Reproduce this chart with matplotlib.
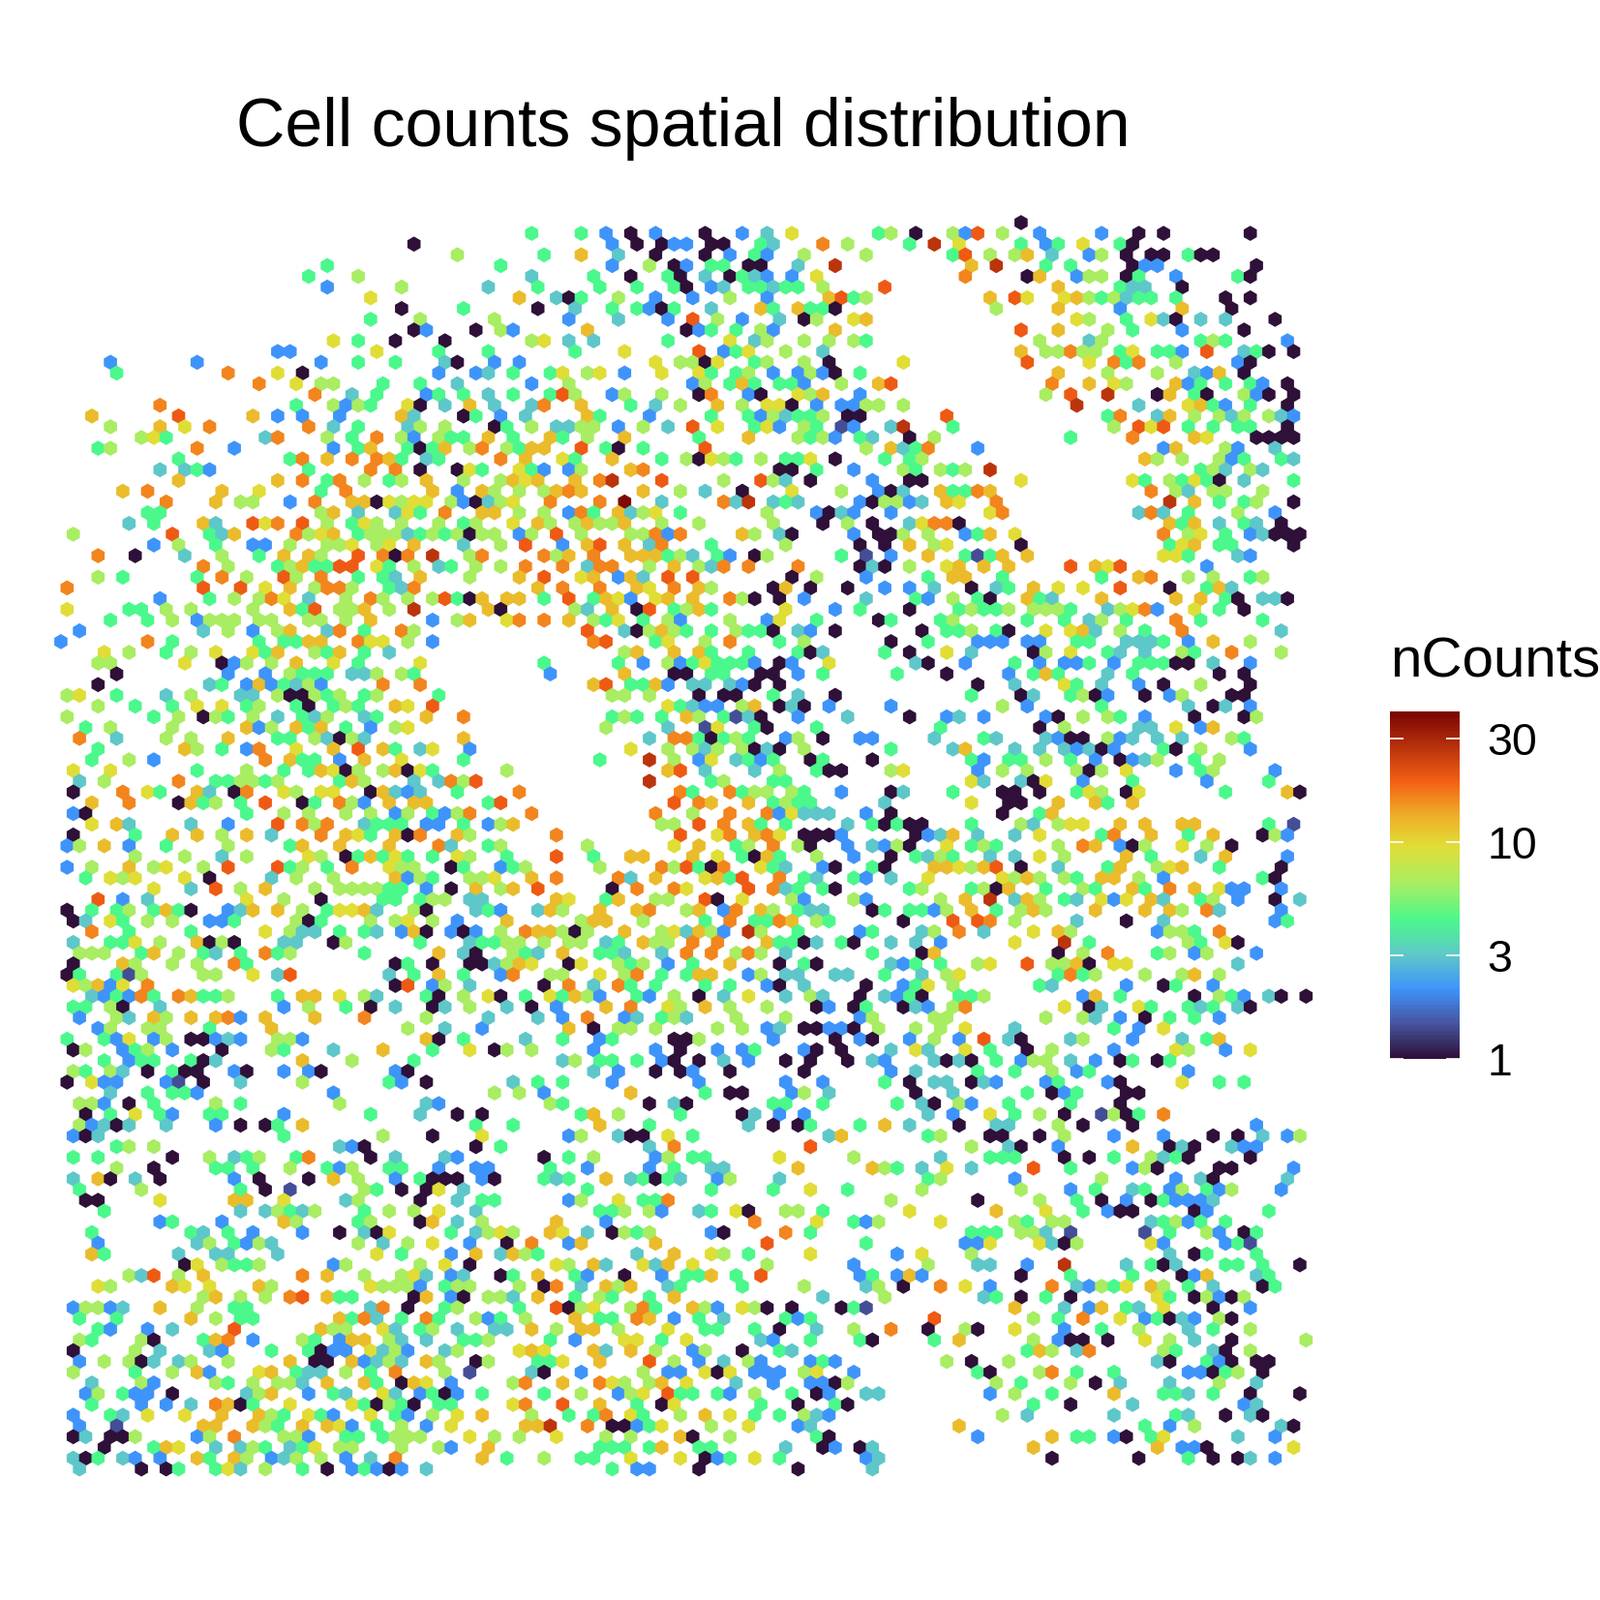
import numpy as np
import matplotlib
matplotlib.use("Agg")
import matplotlib.pyplot as plt
from matplotlib.colors import LinearSegmentedColormap, LogNorm

plt.rcParams['font.family'] = ['Liberation Sans', 'DejaVu Sans']

TITLE = "Cell counts spatial distribution"
LEGEND_TITLE = "nCounts"
LEGEND_TICKS = [1, 3, 10, 30]
LEGEND_LABELS = ["1", "3", "10", "30"]
COUNT_MIN, COUNT_MAX = 1, 40

# nCounts read per colour class
LEVELS = {'a': 1, 'k': 1.4, 'b': 2.1, 'c': 3, 'd': 4.4, 'e': 6.5, 'f': 9.5,
          'g': 12, 'h': 16, 'i': 20, 'j': 27, 'l': 38}

# spot row -> "column+class" tokens
TOP_LEFT = {
2:"28a",3:"32e",4:"21d",5:"20d 24e",6:"21b 27e",7:"25f",8:"27a 32d",9:"25d 29e",10:"28a 29b 33a",
11:"22f 24d 27a 31a",12:"17b 18b 25f 30d",13:"4b 11b 21b 24d 27d 31c 32a",14:"4d 13h 17f 19a 30b 33b",
15:"16h 19f 21e 22e 26d 29d 32c",16:"20h 23c 25d 29b 30d 32d",17:"8h 19d 22e 23b 24e 25d 28f 29a 31c 33g",
18:"2g 9i 15g 17b 19b 22b 27g 28c 32a 33d",19:"4e 8g 10f 12h 20h 22c 24d 28c 29e 31e",
20:"6e 7f 8d 16c 17h 21e 23d 25h 27e 28b 30e 31d 32d",21:"3d 4e 11h 14b 22b 24d 25g 28d 29a 30d 31g 33e",
22:"9d 18d 19h 21g 23h 25h 26g 27d 29c 30d",23:"8c 10c 11d 12b 20d 25h 27h 29a 32a 33f",
24:"9g 17g 19h 21d 22h 24e 26d 27e 29g 32e",25:"5g 7h 13g 16f 21d 23h 30g 32b",
26:"8h 12g 14e 15e 18b 20h 23g 24g 25a 26f 27e 28f 29f 31e 32b 33a",27:"7d 8d 21e 22g 24c 27c 28f 29d 31h",
28:"5c 7d 11g 12c 15i 16f 17h 19i 21e 23d 24f 25e 27e 30e 32d 33e",
29:"1e 9i 12d 13c 14g 19h 20e 21f 22g 24d 25e 26e 27e 28c 29d 30e 31d 32e 33a",
30:"7b 9e 12d 15b 16b 18e 21e 22e 23f 25e 26f 28g 32c",31:"3h 6a 10c 13e 16d 18g 20g 21e 24i 26h 27a 28h 30j 33e",
32:"11h 13e 17d 18e 19g 20d 21d 22i 23i 25f 26d 28e 30c 31d 33e",33:"3e 5d 11d 13h 15e 18i 19e 21h 24d 26d 27c 29g 33e",
34:"0h 11i 14i 16f 18g 20e 21h 22h 23e 26d 27c 28h",35:"8b 12d 14e 16e 17h 18f 20c 23e 25h 26e 28e 30e 31i 32d 33a",
36:"0f 5d 6d 8e 10e 15e 18g 19d 20i 22e 23e 24g 26e 28j",37:"4d 7d 9e 11b 12e 13e 14e 16e 17e 20e 21e 23e 25g 30b 32e 33g",
38:"1b 11c 13e 15b 17e 18g 21c 22h 24d 27h 28e",39:"0b 7h 9d 16d 18d 19d 20g 21g 24h 25f 26f 28e 30b",
}
TOP_MID = {
1:"38d 42d 44b 46a 48b 52a 55b 57c 59f 66d 67e",2:"44b 46a 48a 49b 50b 52a 53a 56d 57c 61h 63e",
3:"39d 42g 45c 48a 52a 54b 56d 57b 60e 65e",4:"35d 44b 47e 49a 50b 52d 53d 55a 56a 59c 62j",
5:"38c 43d 46a 49d 50a 52c 54a 55d 56c 57b 59b 61f",6:"34c 38d 43d 46d 49d 50a 52b 53c 55d 56d 57c 58d 59d 61e 66i",
7:"37g 40c 41a 42d 45e 48b 51b 54e 57b 62g 63i 64d 65e",8:"38a 41c 44d 46d 47b 48a 49d 52c 56g 57d 59g 60d 61d 62a",
9:"35e 41b 45c 49b 51i 53e 55b 58c 60a 61e 64f 65g",10:"33a 35e 36b 42g 50a 51b 52d 54d 56e 57b 62g",
11:"38e 39f 41c 43c 49d 54f 56c 57e 60e 62e 64e 65d",12:"34d 41d 45f 51i 53b 54d 55f 58e 61c",
13:"35b 37b 48f 50e 51e 52a 53f 56d 57e 60e 62a 68e",14:"33b 34c 36d 39d 40f 42e 43f 45b 48f 51f 52d 54d 55e 57b 59b 60e 61b 62a 64d",
15:"38b 41e 51b 52e 54d 55g 56d 58d 59d 60b 63e 66g 67i",16:"34c 36d 39d 40i 41e 44b 45e 48e 51a 52h 55b 56a 59f 60e 61g 64b",
17:"35c 38c 39h 42g 46d 48c 50e 53g 55e 57f 58f 59a 61b 63b 64b 65e 66e 68e",18:"33d 35b 37c 42g 43d 47b 52d 55d 56b 57e 58c 59d 60d 61e 63a 64a",
19:"35a 36d 38e 40c 41c 42e 43e 45b 47e 49c 51i 53f 56d 57f 58b 60e 61d 63k 64b 67c 68j",20:"34g 36d 39g 40d 42e 45g 51d 55g 59e 60d 61e 62b 64d 65c",
21:"34h 36e 37d 38g 39g 42i 44d 45a 47d 52i 65e 67g 68c",22:"35h 37g 40f 41d 44g 48d 50e 51a 52f 53e 54d 56e 58d 59d 60f 62a 66d",
23:"34d 37f 38d 39b 41b 42e 46g 47h 58a 59a 61d 64b 68e",24:"35e 36g 37f 38g 41g 43h 44j 48i 53e 56i 57e 58c 60a 65b",
25:"34g 35e 37e 39e 40g 41h 42g 47g 50e 52c 55a 59f 63e 66b 67a 68c",26:"33a 34c 35e 36f 39h 43h 45l 48c 53h 54c 55j 57c 58d 59c 64b 65a 66e 67e",
27:"34g 35g 37e 39e 41b 42h 43d 45g 46c 47e 48f 50d 57e 61b 62a 63c 64b 67b",28:"33e 36f 38g 39e 41e 42g 43e 44e 45g 48e 51e 57e 61a 63e 65a",
29:"34e 35e 37b 38e 40i 42e 46e 47e 48h 49b 50h 55g 56e 58c 59a 64b 66a 67a 68e",30:"35e 37i 40b 42g 43i 45g 47c 48h 52d 58e 64a 66a",
31:"34h 39h 40e 41g 43h 46g 47g 48g 49d 50e 51c 53d 54b 56a 57e 63d 65k 67b",32:"33e 35e 37h 40h 42c 43h 44h 47e 49g 51e 52c 53h 55h 59h 64a 65c 66a",
33:"37g 39i 42f 43g 45b 46g 47c 49i 51i 59a 61e 65b",34:"38g 40h 43h 46g 47f 49h 51g 52e 57a 58g 60a 63a 66b",
35:"34g 36g 37g 39d 41i 43d 44g 45f 46b 48f 49g 51g 54h 55e 56a 58a 60b 65c",36:"34g 35a 41e 42c 44g 46a 47i 49d 50e 51g 52d 58f 62b 64d",
37:"36f 37h 39h 41g 43e 44d 45f 47d 49e 50b 54e 57b 58f 61d 66a 67d",38:"42i 45c 46a 47e 48g 49e 50d 52d 54e 55d 56d 57a 59c 60b 62a",
39:"43h 44i 48d 49f 52e 54h 58d 60e 67a",
}
TOP_RIGHT = {
0:"77a",1:"69a 72e 73b 74i 76e 79b 84b 87a 89a 96a",2:"68d 70j 72f 77d 79b 80d 82f 85d 86a",
3:"72d 73i 75e 77e 78g 80c 83b 84e 86a 88a 89a 91d 92a 93a",4:"73g 75j 79d 81d 86a 87b 88b 96a",
5:"73h 78a 79g 82b 83e 84e 86a 87d 90b 95d 96a",6:"80g 85d 86c 87c 90a",7:"75g 77i 78f 81f 82g 83e 84d 85e 86c 87d 88d 90d 94a 96a",
8:"75e 80g 85b 90g 94a",9:"82f 83e 86d 88f 89c 90a 92c 94c 98a",10:"77i 80g 84e 86d 90b 95a",11:"79e 83c 84e 92d 93e 94d 99b",
12:"77g 79e 80e 81h 82e 83e 85d 86f 88d 89d 90b 92i 95c 96d 97a 99a",13:"68f 78i 83f 85h 86d 87h 90e 95b 96a",
14:"80g 84e 88e 91c 92b 93g 95a",15:"67i 80h 83g 85f 86e 90g 91b 92d 94d 96d 97b 99a",16:"79e 81i 84j 88a 89g 91d 92a 95e 96b 97a 99a",
17:"68e 82j 87c 91f 92g 93d 94b 96d 99a",18:"71i 84d 85h 88c 89g 91e 93e 94c 95e 97e 98c 99b",19:"67c 68j 72d 85e 87i 88f 89i 91d 93d 95d 96d 99a",
20:"68a 70e 81d 86h 91g 92f 96a 97a 98a 99a",21:"67g 68c 69d 70h 74b 89b 90g 94e 95b 98c",22:"68d 69e 87g 88e 90e 93e 94b 95d 98d 99c",
23:"68e 69d 71e 72d 73e 75j 92d 93e 94c 96e 97c",24:"68a 69a 77f 86f 87d 89e 90d 91f 92d 93a 95c 99d",25:"67a 68c 71g 72d 73d 74h 75g 88h 90e 91c 93e 94e 97e",
26:"67e 68b 69c 71g 72f 75h 89j 91g 93d 95d 96e 99a",27:"67b 75f 76h 87c 88h 89c 91d 95e 98b",28:"68c 69f 70h 71h 72a 89g 90d 91g 93c 95d 96c 98a",
29:"67a 68e 70e 73b 74d 75g 77f 89h 91e 92f 94d 96b 97c 98a 99a 100a",30:"68g 70e 71f 77a 89d 90f 91g 93d 94d 99a",
31:"67b 70g 73d 74k 75d 76g 78g 89f 90f 91d 95c 96b",32:"68e 71f 72g 74g 76g 81i 83g 84f 85i 92b",33:"70d 72g 73g 76d 84d 87g 88h 91e 93e 96d 97e",
34:"68b 70c 73a 75c 76d 78g 80f 82f 85i 89a 92d 93g 94c",35:"69d 70b 72e 74d 75a 78g 79d 80c 84g 90g 92g 94d 95a 97c 98c 99a",
36:"68a 72d 73e 74d 75d 76e 78e 79e 80e 81d 84c 85e 86f 87h 88b 91f 93d 95a",37:"67d 71d 72e 78d 81d 83c 84e 86d 90h 92d 97d",
38:"69a 71d 72d 73e 75d 76a 79f 81f 82g 83c 85e 87d 90h 98c",39:"67a 70d 74b 75b 76b 78b 79b 82d 83d 86c 87c 88c 89d 91b 93g 96e",
}
MID_LEFT = {
40:"3f 5e 8d 10e 12f 15f 16d 17g 20e 21d 22g 24d 26c",41:"3e 4e 10f 13a 14b 15e 17e 19g 22f 24d 29f",
42:"4a 13b 16b 18e 19d 20d 21d 23c 24c 25e 27e 28d",43:"3a 12c 13d 15b 16g 17b 18d 19c 20e 21b 26h 29h",
44:"0e 1f 4d 8c 10e 14c 15c 17e 18a 19a 20e 21d 22e 24d 25e 30d",45:"3e 6d 9d 11f 13f 15d 16e 19d 20a 22d 23e 24d 27g 28f 30i",
46:"0e 7d 9e 11a 12e 13d 15e 17c 19d 20c 21e 24c 25d 29g 32h",47:"2d 4e 9e 15g 16b 17e 19g 20d 21g 23d 25b 27e 28f",
48:"1h 4c 8e 10e 13g 17d 18d 20e 21c 22a 23e 24c 32g",49:"3d 10g 11e 13d 15b 16h 19f 22g 24i 26g 27d 29c 30f 33b",
50:"2d 5e 7b 16h 18g 19d 20d 22b 24g 27f 32d",51:"1f 4f 11d 15e 18d 20d 21g 22f 23a 24e 26e 27g 28a 29f 30d",
52:"1c 3e 9h 12d 13d 14e 15e 16d 17e 22d 23g 24e 28c 30c 31h 32e 33i",53:"1a 5h 7f 8d 11g 12c 14a 15h 18f 19e 21f 22f 25a 26g 27c 28b 29c 32d",
54:"2g 5h 9a 10g 11d 12e 14d 16i 19a 20d 22h 23e 24b 26g 28g 29g",55:"1b 2a 15d 18e 20e 23e 25e 27b 28e 30d 31b 32e 33h",
56:"2f 4g 5c 10c 13b 17i 19h 20e 21h 24c 25d 26d 27d 29b 30b 32d",57:"1a 6d 9g 11g 13e 15g 17c 21h 23g 24f 25d 27g 28a 29h 32g 33e",
58:"0b 1e 3g 5b 8d 13e 18d 19g 22g 26g 30h 31c",59:"6e 10e 13c 15e 20f 21e 23a 24d 25g 26d 27f 28d 30d 32f 33e",
60:"0b 2e 5g 7e 8f 11e 13i 17i 18d 19e 21d 23h 26f 27e 28e 31a 32d",61:"2d 4f 5e 6f 10f 12a 17c 19e 22e 27g 28b 29e 30d 33e",
62:"7f 10c 12i 14e 16g 20e 22e 23e 24e 25e 26d 27d 29b 31a 33g",63:"3i 5b 7c 15f 18e 21a 26d 27d 29d 30e 31e 33c",
64:"0a 2d 4d 5e 7d 8g 9d 10a 13b 14c 15g 17g 19e 21d 22f 23f 24g 25c 28e 29a 33c",65:"1a 2c 4f 5d 7e 9e 12b 13b 14d 19e 20a 21d 25e 27e 28f 30e 32b",
66:"2h 5d 10d 16f 18e 19c 20c 22d 24d 25c 27b 28g 29a 31b 32a 33b",67:"1c 4d 5d 6f 8e 11g 12a 13e 14a 18c 19c 22a 23e 29d 33c",
68:"1e 2e 3e 6d 7g 9e 11d 12c 14d 16h 17d 18e 24d 30g 32c 33a",69:"1a 5g 6e 9e 11e 14h 15d 27a 28d 30a 33a",
70:"0a 1d 4d 5k 6e 11e 12e 15f 17c 18i 26c 28d 30g 32d",71:"1f 2e 3g 4b 5f 7h 27a 28i 30b 31e 33c",
72:"2c 3b 4d 5b 6h 7d 9h 10g 11d 12d 13e 17d 19g 20g 22f 24e 25c 29d 30a 32e",73:"1d 2d 4e 5a 8c 18b 20e 23d 25a 27c 30a 31c 33e",
74:"1b 4e 5c 7g 8e 10g 12g 13h 14b 16g 20g 24h 29e",75:"3b 4e 7e 8e 12d 17g 28e 31c 34b",
76:"0d 3d 4b 5f 7b 8e 10a 11a 12b 13c 14b 17e 18e 19b 29g 30a 32d",77:"1a 2e 5b 6d 7e 9b 13a 17e 18d 22c 26g 30d 33f",
}
MID_MID = {
40:"45e 46g 49g 51g 52d 55d 59d 60a 61c 66d",41:"39d 45d 47b 49e 50b 51d 52f 53d 54d 55d 56b 58a 59b 62f",
42:"39b 45g 49a 50a 52d 53d 56a 57a 59b 61d 67d",43:"43g 44i 46d 47d 48g 49b 51c 52c 54c 55b 56a 58a",
44:"44e 45e 47e 51a 53a 54a 57d 59c 62a",45:"49f 50d 51c 52b 53b 55e 56g 58a 59c 60a 62b 67b",
46:"44d 45e 46d 48d 50g 51e 53d 54k 55c 56a 59b 63c",47:"44e 49c 52k 53f 56d 57a 61d",
48:"47c 49h 50h 51d 52a 53d 54e 55d 58b 59e 61a 64b 65b",49:"46f 49e 51e 52c 53e 55e 56a 57c 58a 60e 67d",
50:"43d 47j 49e 51b 52f 54c 55d 56b 57d 60a 61d 65a",51:"36e 49g 50i 52c 56c 58e 61d 62a 63a 67e 68f",
52:"33i 47j 52d 53e 57d 58d",53:"37h 50h 51d 54h 55d 56e 57e 59e 60d 63b 67a 68c",
54:"34d 35i 49i 51h 52g 55g 57d 58e 59d 60d 66c",55:"38h 48h 51e 54h 57h 58b 59f 60c 61c 62c 65b 67a",
56:"34b 35e 36g 48e 49e 51i 53h 55g 56d 58d 63c 65d 66a 67d",57:"40h 50i 53f 54h 56g 57h 58f 60a 61a 62a 63b",
58:"34d 35e 42e 49f 51g 54d 55e 57h 59e 60a 63b 65c 66b 67e",59:"36d 40i 43d 46g 47g 51g 53f 55d 56a 57g 58d 61e 64b 67a",
60:"35b 36d 37e 43e 48h 49e 50i 51d 52a 53h 56f 57d 58c 61b 62a 65d 66a",61:"34e 35f 38g 40h 45h 46c 48g 52f 53g 54d 55i 58h 60d 61c 64d 65b 67c",
62:"33g 35e 36g 38i 44a 46h 49h 50f 55i 57h 58c 59d 61d 62a",63:"34c 40g 41f 44d 45g 48e 49e 52i 53a 55f 59e 60b 64e 65b",
64:"33c 34d 35b 38c 39g 40e 43g 46g 47h 50e 51g 53b 54h 56g 57e 59d 60c 61c 65a 66d",65:"36g 42e 43g 44g 47e 52d 54h 56d 57d 58h 59g 61e 62d 68a",
66:"33b 35e 37h 38g 39g 40e 41a 42e 45g 48e 49f 50c 51g 52e 53b 55j 56e 59d 64b 65d",67:"34d 35d 36e 37e 39e 41e 42e 44c 45d 47g 48e 49e 51h 53h 57g 58d 59d 60a 61c 63d 64a 67c",
68:"33a 36e 37d 38c 40g 43d 44d 45c 48c 50h 52h 54e 55h 56e 58c 65d",69:"34a 35c 36e 37g 38f 41a 42f 45e 46d 47e 49b 51d 54g 58a 60d 61a 67c 68b",
70:"35b 36h 39e 40e 43f 45e 46h 48d 50d 51g 52g 55b 56e 58c 59c 62c 63c 66d",71:"39a 41h 43c 45h 46d 48d 52d 54d 57b 58a 60c 65a",
72:"34f 35a 37d 39f 40d 41g 42e 43b 46d 47b 49e 51a 53c 55f 58c 60e 61c 64a 66c 67b",73:"36c 38a 40b 44g 46h 49f 50e 52g 54e 57e 61a 62b 64a 65d 68a",
74:"34c 38c 40b 42h 45b 46c 48d 49e 50c 54e 58e 64b 65e",75:"34b 41g 43a 45e 46e 48e 53e 55e 57b 58c 60a 61a 62b 63b 64a 66e",
76:"37c 40d 43b 44d 49a 50a 51e 57b 62a 64b 65a",77:"35a 36e 38e 43b 48b 50a 53b 55b 56d 60b 61a 63a 67c",
}
MID_RIGHT = {
40:"68a 71f 73c 78a 79e 81f 84d 85c 87c 90e 91d 94h 98e",41:"69c 70a 73b 77d 79b 81b 82b 83d 85b 87d 88d 89d 90a 91a 93c 96b",
42:"67d 71a 76b 78d 79g 80d 84c 86d 93a 95a",43:"74a 77c 81f 82d 84c 87b 89a 92e 96a",44:"73d 77a 78c 81d 82e 83a 84b 87a 89b 90e 94a 95a",
45:"67b 76e 78b 84d 91c 93a 94c 96b",46:"68a 71b 72c 74b 79b 80a 82e 84e 85d 87b 91a 95a 96e",47:"71d 79a 81e 87c 88c 90f 92b 93g",
48:"70c 74d 75c 79c 80b 81a 82a 84e 85b 86c 88c 90c 94e 95d",49:"67d 72c 73g 77c 79c 81c 82b 83c 84a 85b 89d 90a 92e 96b",
50:"73d 74b 76d 77d 79e 81d 83b 85a 86b 87c 88e 91d 93e",51:"67e 68f 74b 76e 78e 82e 83a 84e 86f 90b 92d 93e 98b",
52:"73f 74c 77c 78a 79f 82b 86d 92b 97d",53:"67a 68c 72d 76a 77a 79a 82d 83f 84e 86a 87f 94d 99g 100a",
54:"73f 76a 77a 80g 83g 84d 86g",55:"67a 76a 79d 80g",56:"67d 68a 69a 73d 77e 78c 80e 81f 82f 85g 87g 90g 91g 97d 99k",
57:"69a 70b 71c 72g 74c 77c 79f 84d 85h 88g 91d 93g 97a 98e 99b",58:"67e 68a 71f 73d 74e 75d 80e 82h 83g 85b 86a 87e 90f 92e 94a",
59:"67a 69d 70c 71e 72d 75c 77c 79f 81e 86g 88d 92c 94g 99b",60:"70g 71g 72f 73e 74g 75i 77a 80c 84d 85g 88e 89f 90g 93d 98a",
61:"67c 70f 76f 77e 78g 79e 81e 82d 84g 85g 87e 89b 97d 98a",62:"68d 69e 73d 74e 75a 76g 79d 82e 83d 86g 87d 89h 91g 93f 94b 95b 98b",
63:"71e 73g 75j 77c 78g 79e 81d 82c 84f 85b 86f 88g 89c 92d 93e 95b 98a 100c",64:"68d 69d 70b 71e 73g 75d 77e 78g 79e 83g 87g 89g 90e 92h 93c 98b",
65:"68a 72i 74i 75h 77e 82c 86a 89c 98b 99d",66:"69c 70e 72h 74c 78f 80g 81e 88b 89e 90e 91d 93h",67:"67c 69c 71b 77f 81j 83d 91e 92d 94f 95a",
68:"69a 70g 80a 82e 84h 88d 89e 91b 92e 96b",69:"67c 68b 69d 71d 74e 75f 78i 80e 81e 82g 83a 85f 86f 95c",70:"69c 71e 72f 80d 81h 82d 83e 87e 90e 91g 93e",
71:"68b 69d 70f 72e 79d 80c 86b 89a 90d 93b",72:"67b 68d 69a 72d 73d 74e 82b 83g 85d 91a 93e 94d 95b 97c 98a 100a",73:"68a 69c 70b 72e 73h 81f 83a 84c 87f 88d 91d 92c 93d 95c 96a",
74:"70e 71e 79e 82e 83c 85b 87a 89d 91d 93b",75:"69e 71e 73f 77c 85d 87b 89f",76:"68b 70e 72b 74i 76c 77a 81c 82e 86b 90c 92d 93g",
77:"67c 69f 70c 73f 75d 78a 80e 85b 90f 91e 94b 96f",
}
BOTTOM_LEFT = {
78:"3d 5b 6d 7d 10d 11a 12c 19g 23e 28d",79:"1e 2d 4e 5c 7a 9d 10a 11a 14b 15a 18b 20b 21a 27b 28a",80:"0a 2f 3b 4b 8b 9k 11a 14c 19e 26d 27b 29a",
81:"4c 7d 9d 10d 11b 22b",82:"1e 2e 3b 5a 7d 12e 14d 22e 29c 30b",83:"2a 4d 6f 8d 9b 12d 13d 18b 25d 29c 32a 34a",84:"1e 2b 3c 4a 5c 8c 12b 14a 16a 17d 19g 33d",
85:"1b 2a 3c 18d 26e 30a 34e",86:"4d 5e 7e 22c 23b 24a 33a",87:"1d 3d 9a 12e 14c 15d 16e 19d 20h 25a 27c 31c 32b",88:"4e 7a 12d 13d 15d 18e 21d 22b 23e 26d 27d 30b 33b",
89:"1c 3g 4a 6c 8a 14b 16a 20a 22g 24e 27b 29d 30a 31a 32a 34b",90:"1d 6e 14d 16a 18k 24e 25d 27a 29a 30f 32c",91:"2a 3a 8f 14g 15g 18f 23c 24e 29a 32c",
92:"3d 14c 16c 17e 18d 19c 20e 24d 26e 28e 30f 33c",93:"8b 9d 13b 18g 19e 24d 25e 29a 30g 32c 34f",94:"2d 10d 11c 13d 15b 19b 22a 24c 25a 26f 31d 33c",
95:"3b 11c 12e 14d 15b 16e 17c 24e 26c 28e 30f 33b",96:"2g 3d 9c 12c 13c 17c 25f 27d 31b 33g",97:"10a 11f 13e 14d 15d 16e 22b 23e 29e 31f 33a",
98:"5e 6c 7i 9e 11g 19h 21g 24e 27e 28f 29c 31b 32c",99:"3f 4e 9g 10f 12f 16g 17e 25f 26e 27e 28e 29b 31d 32e 33e",100:"11e 12g 14e 16e 18h 19i 21g 22d 23d 28a 29g 31b 32a",
101:"1b 2e 3e 4b 5c 8g 11e 14d 15d 25c 26h 28a 31d 32e",102:"1d 4d 10g 12e 14d 15d 22g 23d 24h 25c 27d 29h 30d 33e",103:"3d 4b 7b 9c 14i 21g 22e 23e 26f 27c 29d 30e 32c",
104:"1e 2d 6e 7a 11d 12g 13h 15b 19e 20d 22b 23g 24g 26e 27c 29c 32d 33d",105:"1a 6e 8c 12c 13b 17d 20d 21a 22b 23b 25f 26c 27e 28b 31c 32e",
106:"1b 3e 5e 6a 7c 9c 10e 13e 18g 20a 21a 23g 24b 25c 26e 27c 29g 30e 33a",107:"1e 6d 9e 11g 12b 16f 17g 19d 20c 21c 23e 25d 27h 31e 33k",
108:"2c 6e 7b 12e 13d 15e 17e 18e 19c 21g 24g 25d 27a 28g 29f 31b",109:"2b 3e 5d 6b 7b 9a 15c 16e 17g 20b 22d 23c 26f 27c 29b 30d 31a 32b 34d",
110:"2d 6b 8b 10c 12h 13g 14a 15d 18f 23f 24d 25a 26e 27d 28a 30d 31d",111:"1b 4d 5c 7f 10f 13g 16g 17e 18d 20f 21d 22b 25f 27d 28b 30e 32f 34g",
112:"1b 4k 11g 12g 15g 16e 17d 19g 21g 22f 23b 25d 27e 29b 31f",113:"1a 2c 4a 5a 6e 11b 12e 14h 18e 19e 20b 23d 24d 26d 27e 28e 29e 33f",
114:"3a 7d 8g 9f 12c 14c 15e 16d 18c 19d 20f 22e 23e 27e 30e 31b",115:"1c 2a 3d 5c 6b 8b 11g 12d 14g 15e 17b 18c 19e 21e 23b 25c 27h",
116:"1c 6a 8a 9d 12d 13f 14c 16e 19d 21a 23b 24d 25b 26a 27b 29c",
}
BOTTOM_MID = {
78:"40c 41e 43d 44d 46d 48b 49a 51a 53c 55b 58a 60a 63a 65c 66b",79:"43c 45b 48a 50a 51b 54a 60a 67b",80:"36c 38d 40d 44b 51b 58b 61b 66d",
81:"35e 37e 39b 46g 52d 54a 55a 59b 60e 62c",82:"39e 40d 47a 49c 50a 57d 58d 61d 67d",83:"34a 42d 43g 45e 50d 55a 56c 58b 60b",84:"33d 36d 43g 47d 55c 57a 59a 60d 64d 66g",
85:"34f 41b 42e 45c 46a 47a 49f 51d 62c 63g",86:"33a 35d 47c 49h 60i",87:"39a 41d 43e 48b 49e 51d 52d 58f 64e",88:"33b 34b 39d 42b 47b 49d 52c 53c 59g 65g 66e 67d",
89:"34b 35a 39d 40c 41d 44g 46c 47d 48a 49d 50c 53b 54e 58c",90:"42d 52d 57d 60f 63d",91:"34d 35d 41b 42e 45f 47d 48d 49h 67e",92:"33c 43d 44d 45e 47e 48b 51c 52d 54f 55a 58e 59e 61d",
93:"34e 40g 44b 56h 61f 64d 65b 66e",94:"33c 34e 35f 36e 39g 40f 42c 44a 45e 46d 47e 52b 53a 58h 60d",95:"36a 38h 41b 42g 48g 57i 65d",96:"33g 35c 36g 37e 38d 46c 49g 52f 53e 55d 60f 67b",
97:"40f 41e 43g 44c 47f 48c 49g 51f 57e 64b",98:"35a 36d 38g 41d 42b 45a 48b 50d 51d 52g 54d 56i 64b 65d 67b",99:"37e 39a 40h 42c 44g 45e 46g 49c 50d 55d 60e 65c 66e 68a",
100:"34e 35e 36c 38g 41d 43e 44d 47d 49g 61c 66e",101:"37d 40i 41a 42e 43f 46e 47h 48d 51g 52e 53b 55f 56e 57a 59a 63a 64d 65k",102:"33e 34b 35d 37e 41g 43d 44d 46h 47g 49b 51d 53c 58d 59b 60d",
103:"35c 36c 38g 40e 42g 43g 45e 49f 52d 53d 56d 58a 61c 64e 67g",104:"33d 34e 39d 41b 45f 46f 48d 50f 56c 57b 60d 64d 65a",105:"37f 38g 39f 43g 44c 46g 48e 51b 52e 55a 58d 59c",
106:"33a 34e 38d 39d 40f 43g 47i 49e 51b 53c 55e 56b 60b 61d 62b",107:"38c 39a 42b 47e 49b 50b 52f 53a 54f 56b 57b 58b 60e 61f 64b",108:"36e 37h 40g 43h 44f 45e 47e 48g 50f 54c 57b 60b 61b 62a 63e",
109:"34d 39d 42e 45b 46e 47f 49i 50d 51d 53d 54b 56e 59d 61a 62b 65c 66c",110:"36f 37h 40i 43g 46d 48a 49f 56d 59a 62d 63a",111:"34g 38e 41d 43d 44h 46f 47d 50e 52g 54f 56d 58d 60e 61c 62b",
112:"37g 38g 39j 42h 44a 45a 46b 47d 48f 52e 55f 59b 60c",113:"35e 37e 40f 44e 46e 50g 51a 54e 61d 62a",114:"34g 43d 44d 45d 47d 48g 51d 52d 58c 61a 62b 64a 65c",
115:"34g 36d 39e 42d 43d 46f 50f 52a 53b 54d 56f 58d 65b 66c",116:"44d 46b 47b 51a 59a 65c",
}
BOTTOM_RIGHT = {
78:"70c 71a 72c 73a 75d 77b 78e 79e 81c 83b 85a 86d 88a 89d",79:"69c 74d 77d 80e 82b 83d 91b",80:"68a 70c 71c 73a 74c 75b 79b 80d 84b 85a 90f 93d 95d",
81:"69a 72c 78d 80a 81b 82d 86a 87a",82:"67d 69c 70a 72e 73b 76d 81d 85a",83:"70c 72b 75f 77d 79e 81a 84k 85e 86a 87d 89h",84:"68c 72a 75c 76c 80e 82a 86a 96b",
85:"70d 71e 75a 76a 79a 81e 85b 89b 93a 95a 97c 99b 100e",86:"73e 76c 77a 80b 86g 89a 90c 91a 94c 95b 96b",87:"71c 75d 76d 77d 81a 83a 85d 88e 89c 90d 91a 96a",
88:"67d 69c 71f 73c 78i 81d 86b 87e 88a 93a 94a 99b",89:"70d 71e 77b 84e 90b 92c 93a 99c",90:"69e 77e 81b 83d 86c 87d 89b 90e 92d 93b 94e 98b",
91:"67e 74a 79e 82d 84a 86b 88a 89d 90b 91b 92b 93c",92:"68f 75g 79f 82d 84b 85a 86a 91a 92b 97d",93:"71f 77e 78d 80e 81e 88c 89d 90e 91b 92d 94d",
94:"73d 74d 75d 77e 78e 79c 81k 87k 89d 92e 93b 95a 96d",95:"73b 74b 75f 79f 80c 81a 82e 88f 89b 94b 95d 96k",96:"67b 69f 73e 89c 91a 92d 96d",
97:"70e 74c 75c 78b 81j 86c 88d 89a 90c 94d 95d 97d 100a",98:"67b 68g 69b 77a 81d 86d 90a 91b 92g 96c 97d",99:"68a 71h 73f 75b 80h 82c 83b 84e 85d 86f 88g 89e 91d 93c 97a 98d",
100:"74c 75d 77a 79d 81a 88f 89d 91a 92e 93b 94a 95e",101:"77g 81c 83b 84g 86d 87c 89f 93a 96b",102:"70i 78e 80d 82h 85f 87b 88d 89a 90c 91b 93e 94a",
103:"67h 70a 73e 74a 77f 81b 84d 87e 91c 93d 96e",104:"70d 72g 78e 80b 81a 82a 84a 87f 89e 91c 94a 100e",105:"78d 79g 80e 82c 83h 89e 90d 93c 94a 96e",
106:"71e 73a 76e 88c 89a 92d 93b 94a 96a 97a",107:"74d 75a 79e 80h 82d 85d 91b 92b 93a 94d 95e 97a",108:"75e 77d 81e 83a 85c 89c 93e 96c",109:"75b 77e 80d 85g 89d 90d 91c 93d 96a 100a",
110:"78d 81a 86c 95b 96c",111:"76e 78c 85c 90d 91c 94a 96c 97a",112:"72g 87d 89b 91e 98c 99a",113:"74b 80g 82d 83d 85b 86a 88d 89f 95c 98b",
114:"78g 88g 90b 91b 92a 99f",115:"80a 87a 91d 93a 95a 96c 98b",
}
BLOCKS = [TOP_LEFT, TOP_MID, TOP_RIGHT, MID_LEFT, MID_MID, MID_RIGHT,
          BOTTOM_LEFT, BOTTOM_MID, BOTTOM_RIGHT]

spots = {}
for block in BLOCKS:
    for row, text in block.items():
        for tok in text.split():
            spots[(row, int(tok[:-1]))] = LEVELS[tok[-1]]

rows = np.array([k[0] for k in spots])
cols = np.array([k[1] for k in spots])
counts = np.array(list(spots.values()), dtype=float)
x = cols + 0.5 * (rows % 2 == 0)
y = rows

cmap = LinearSegmentedColormap.from_list("counts", [
    (0.00, (46/255, 16/255, 56/255)), (0.10, (70/255, 85/255, 160/255)),
    (0.20, (62/255, 148/255, 250/255)), (0.30, (95/255, 200/255, 200/255)),
    (0.40, (75/255, 248/255, 140/255)), (0.50, (165/255, 238/255, 100/255)),
    (0.61, (224/255, 222/255, 55/255)), (0.70, (238/255, 175/255, 40/255)),
    (0.80, (245/255, 95/255, 20/255)), (1.00, (122/255, 4/255, 3/255))])
norm = LogNorm(COUNT_MIN, COUNT_MAX)

W = 1653.0
fig = plt.figure(figsize=(16.53, 16.53), dpi=100)
# one column = 12.8 px, one row = 11.1 px
left, top = 62.9 - 12.8, 230 - 2 * 11.1
aw, ah = 103 * 12.8, 120 * 11.1
ax = fig.add_axes([left / W, 1 - (top + ah) / W, aw / W, ah / W])
ax.set_xlim(-1, 102)
ax.set_ylim(118, -2)
ax.axis('off')
ax.scatter(x, y, c=counts, cmap=cmap, norm=norm, marker='h', s=128, linewidths=0)

fig.text(244 / W, 1 - 151 / W, TITLE, fontsize=50.3, ha='left', va='baseline', color='black')

# legend colour bar
cax = fig.add_axes([1436 / W, 1 - 1094 / W, 72 / W, 359 / W])
grad = np.logspace(0, np.log10(COUNT_MAX), 257)
cax.pcolormesh([0, 1], grad, grad[:-1, None], cmap=cmap, norm=norm, rasterized=True)
cax.set_yscale('log')
cax.set_ylim(COUNT_MIN, COUNT_MAX)
cax.set_xlim(0, 1)
for s in cax.spines.values():
    s.set_visible(False)
cax.set_xticks([])
cax.yaxis.tick_right()
cax.set_yticks(LEGEND_TICKS)
cax.set_yticklabels(LEGEND_LABELS, fontsize=33.5)
cax.minorticks_off()
cax.tick_params(axis='y', length=0, pad=20.5)
cax.hlines(LEGEND_TICKS, 0, 0.2, color='white', lw=1.2)
cax.hlines(LEGEND_TICKS, 0.8, 1, color='white', lw=1.2)
fig.text(1436 / W, 1 - 700 / W, LEGEND_TITLE, fontsize=42, ha='left', va='baseline')

fig.savefig("out.png", dpi=100, facecolor='white')
